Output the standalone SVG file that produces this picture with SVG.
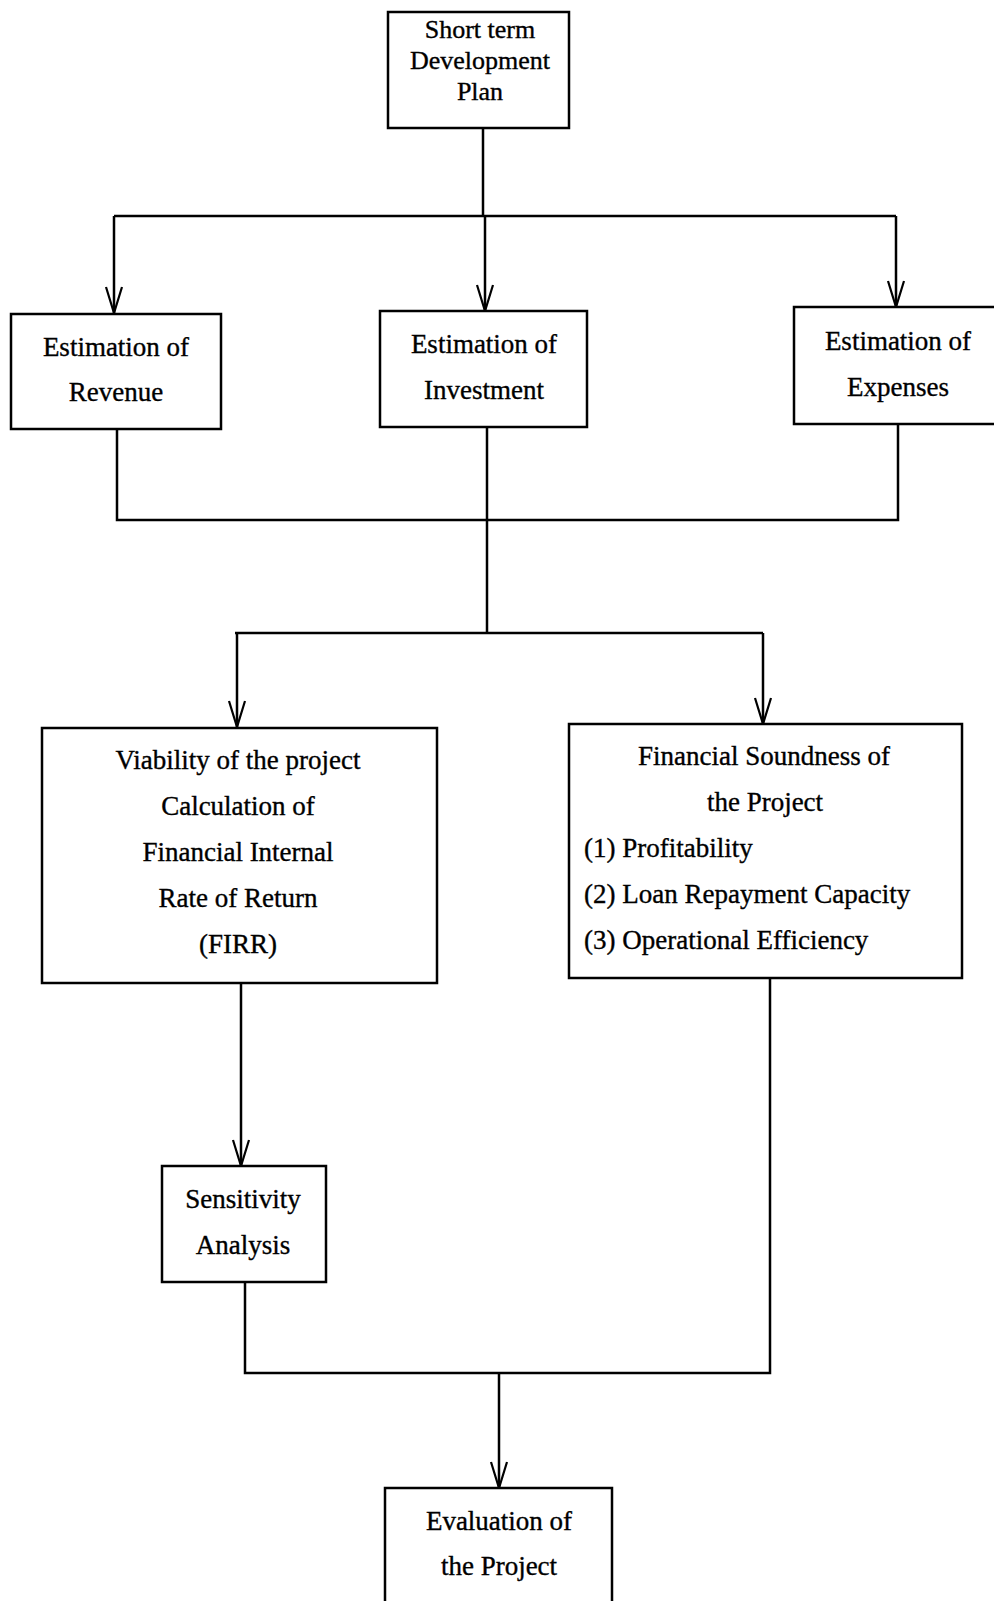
<svg xmlns="http://www.w3.org/2000/svg" width="994" height="1601" viewBox="0 0 994 1601">
<style>
.box{fill:#fff;stroke:#000;stroke-width:2.5}
.c{fill:none;stroke:#000;stroke-width:2.5}
text{font-family:"Liberation Serif","Times New Roman",serif;font-size:27px;fill:#000;stroke:#000;stroke-width:0.35}
.t{font-size:26px}
.m{text-anchor:middle}
</style>
<defs>
<marker id="v" markerUnits="userSpaceOnUse" viewBox="-28 -10 30 20" markerWidth="30" markerHeight="20" refX="0" refY="0" orient="auto">
<path d="M-26,-8 L0,0 L-26,8" fill="none" stroke="#000" stroke-width="2.2"/>
</marker>
</defs>
<rect width="994" height="1601" fill="#fff"/>
<g id="connectors">
<path class="c" d="M483,128 V216"/>
<path class="c" d="M114,216 H896"/>
<path class="c" d="M114,216 V313" marker-end="url(#v)"/>
<path class="c" d="M485,216 V311" marker-end="url(#v)"/>
<path class="c" d="M896,216 V307" marker-end="url(#v)"/>
<path class="c" d="M117,429 V520 H898 V424"/>
<path class="c" d="M487,427 V633"/>
<path class="c" d="M235,633 H763"/>
<path class="c" d="M237,633 V727" marker-end="url(#v)"/>
<path class="c" d="M763,633 V724" marker-end="url(#v)"/>
<path class="c" d="M241,983 V1166" marker-end="url(#v)"/>
<path class="c" d="M245,1282 V1373 H770 V978"/>
<path class="c" d="M499,1373 V1488" marker-end="url(#v)"/>
</g>
<g id="short-term-plan">
<rect class="box" x="388" y="12" width="181" height="116"/>
<text class="m t" x="480" y="38">Short term</text>
<text class="m t" x="480" y="69">Development</text>
<text class="m t" x="480" y="100">Plan</text>
</g>
<g id="revenue">
<rect class="box" x="11" y="314" width="210" height="115"/>
<text class="m" x="116" y="356">Estimation of</text>
<text class="m" x="116" y="401">Revenue</text>
</g>
<g id="investment">
<rect class="box" x="380" y="311" width="207" height="116"/>
<text class="m" x="484" y="353">Estimation of</text>
<text class="m" x="484" y="399">Investment</text>
</g>
<g id="expenses">
<rect class="box" x="794" y="307" width="203" height="117"/>
<text class="m" x="898" y="350">Estimation of</text>
<text class="m" x="898" y="396">Expenses</text>
</g>
<g id="viability">
<rect class="box" x="42" y="728" width="395" height="255"/>
<text class="m" x="238" y="769">Viability of the project</text>
<text class="m" x="238" y="815">Calculation of</text>
<text class="m" x="238" y="861">Financial Internal</text>
<text class="m" x="238" y="907">Rate of Return</text>
<text class="m" x="238" y="953">(FIRR)</text>
</g>
<g id="financial-soundness">
<rect class="box" x="569" y="724" width="393" height="254"/>
<text class="m" x="764" y="765">Financial Soundness of</text>
<text class="m" x="765" y="811">the Project</text>
<text x="584" y="857">(1) Profitability</text>
<text x="584" y="903">(2) Loan Repayment Capacity</text>
<text x="584" y="949">(3) Operational Efficiency</text>
</g>
<g id="sensitivity">
<rect class="box" x="162" y="1166" width="164" height="116"/>
<text class="m" x="243" y="1208">Sensitivity</text>
<text class="m" x="243" y="1254">Analysis</text>
</g>
<g id="evaluation">
<rect class="box" x="385" y="1488" width="227" height="120"/>
<text class="m" x="499" y="1530">Evaluation of</text>
<text class="m" x="499" y="1575">the Project</text>
</g>
</svg>
